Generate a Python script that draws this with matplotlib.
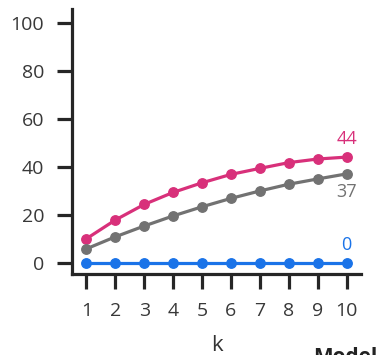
import matplotlib
matplotlib.use("Agg")
import matplotlib.pyplot as plt

k = [1, 2, 3, 4, 5, 6, 7, 8, 9, 10]
model_a = [10, 17.8, 24.3, 29.3, 33.3, 36.8, 39.3, 41.7, 43.2, 44]
model_b = [5.8, 10.8, 15.3, 19.5, 23.3, 26.8, 29.9, 32.7, 34.9, 37]
model_c = [0, 0, 0, 0, 0, 0, 0, 0, 0, 0]
series = [(model_a, "#D8307A", 1), (model_b, "#727272", -1), (model_c, "#1A73E8", 1)]
y_ticks = [0, 20, 40, 60, 80, 100]

plt.rcParams["font.family"] = ["Open Sans", "DejaVu Sans"]
dark = "#262626"

fig = plt.figure(figsize=(3.88, 3.55), dpi=100)
ax = fig.add_axes([72 / 388, 1 - 274 / 355, (361 - 72) / 388, (274 - 9) / 355])

for vals, color, side in series:
    ax.plot(k, vals, color=color, lw=2.3, marker="o", ms=6.8, zorder=3, clip_on=False)
    ax.annotate(f"{vals[-1]:.0f}", (k[-1], vals[-1]), xytext=(0, 18 * side),
                textcoords="offset pixels", ha="center", va="center",
                color=color, fontsize=13)

ax.set_xlim(0.5, 10.5)
ax.set_ylim(-4.7, 105.7)
ax.set_xticks(k)
ax.set_yticks(y_ticks)
for s in ("top", "right"):
    ax.spines[s].set_visible(False)
for s in ("left", "bottom"):
    ax.spines[s].set_linewidth(2.3)
    ax.spines[s].set_color(dark)
ax.tick_params(length=11, width=2.3, color=dark, labelsize=14,
               labelcolor="#383838", pad=9)
ax.set_xlabel("k", fontsize=16, color="#333333", labelpad=11)

fig.text(313 / 388, 1 - 347 / 355, "Model", fontsize=15, fontweight="bold",
         color="#222222", va="top", ha="left")

fig.savefig("out.png", dpi=100)
